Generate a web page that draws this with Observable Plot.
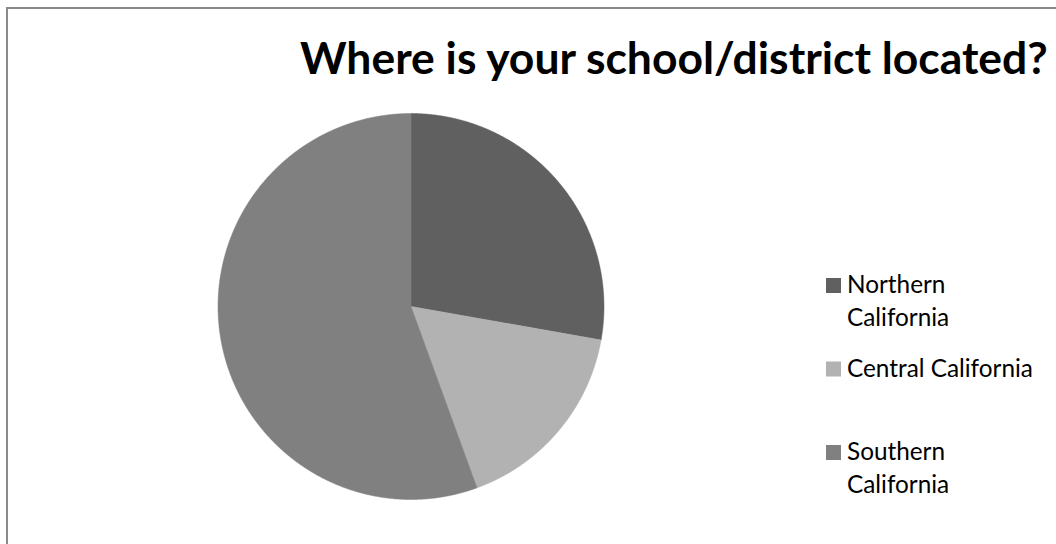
<!DOCTYPE html>
<html>
<head>
<meta charset="utf-8">
<script src="https://cdn.jsdelivr.net/npm/d3@7"></script>
<script src="https://cdn.jsdelivr.net/npm/@observablehq/plot@0.6"></script>
<style>
  html, body { margin: 0; padding: 0; background: #fff; }
  #wrap { position: relative; width: 1056px; height: 544px; overflow: hidden; }
  #border { position: absolute; left: 6px; top: 7px; width: 1200px; height: 700px;
            border-left: 2px solid #8a8a8a; border-top: 2px solid #8a8a8a; box-sizing: border-box; }
  #wrap svg { position: absolute; left: 0; top: 0; }
</style>
</head>
<body>
<div id="wrap"><div id="border"></div></div>
<script>
// ---- data ----
const categories = ["Northern California", "Central California", "Southern California"];
const counts = [10, 6, 20];
const colors = ["#606060", "#b2b2b2", "#808080"];
const legendLines = [["Northern", "California"], ["Central California"], ["Southern", "California"]];
const title = "Where is your school/district located?";

// ---- pie geometry from data ----
const pie = d3.pie().sort(null).value(d => d.value).startAngle(0).endAngle(2 * Math.PI);
const arcs = pie(categories.map((c, i) => ({key: c, value: counts[i]})));
const pts = [];
for (const a of arcs) {
  const n = Math.max(2, Math.ceil((a.endAngle - a.startAngle) / 0.005));
  pts.push({key: a.data.key, x: 0, y: 0});
  for (let k = 0; k <= n; k++) {
    const t = a.startAngle + (a.endAngle - a.startAngle) * k / n;
    pts.push({key: a.data.key, x: Math.sin(t), y: Math.cos(t)});
  }
  pts.push({key: a.data.key, x: 0, y: 0});
}

const cx = 410.5, cy = 306, r = 193;
const chart = Plot.plot({
  width: 1056, height: 544, margin: 0,
  x: {domain: [-1, 1], range: [cx - r, cx + r], axis: null},
  y: {domain: [-1, 1], range: [cy + r, cy - r], axis: null},
  color: {domain: categories, range: colors},
  style: {background: "transparent", overflow: "visible"},
  marks: [
    Plot.line(pts, {x: "x", y: "y", z: "key", fill: "key", stroke: "key", strokeWidth: 0.5, curve: "linear"})
  ]
});
document.getElementById("wrap").appendChild(chart);

// ---- text: title & legend ----
const FONT = "Lato, 'Open Sans', 'Noto Sans', sans-serif";
const ctx = document.createElement("canvas").getContext("2d");
function fit(text, weight, target) {
  ctx.font = `${weight} 100px ${FONT}`;
  return 100 * target / ctx.measureText(text).width;
}
const svg = d3.select(chart);
const titleSize = fit(title, 700, 750);
svg.append("text").attr("x", 300).attr("y", 74).attr("text-anchor", "start")
  .attr("font-family", FONT).attr("font-weight", 700).attr("font-size", titleSize)
  .attr("fill", "#000").text(title);

const legSize = fit("Central California", 400, 186);
categories.forEach((c, i) => {
  const base = 293 + i * 83.5;
  svg.append("rect").attr("x", 826).attr("y", base - 15).attr("width", 15).attr("height", 15)
    .attr("fill", colors[i]);
  legendLines[i].forEach((ln, j) => {
    svg.append("text").attr("x", 847).attr("y", base + j * 33).attr("text-anchor", "start")
      .attr("font-family", FONT).attr("font-size", legSize).attr("fill", "#000").text(ln);
  });
});
</script>
</body>
</html>
